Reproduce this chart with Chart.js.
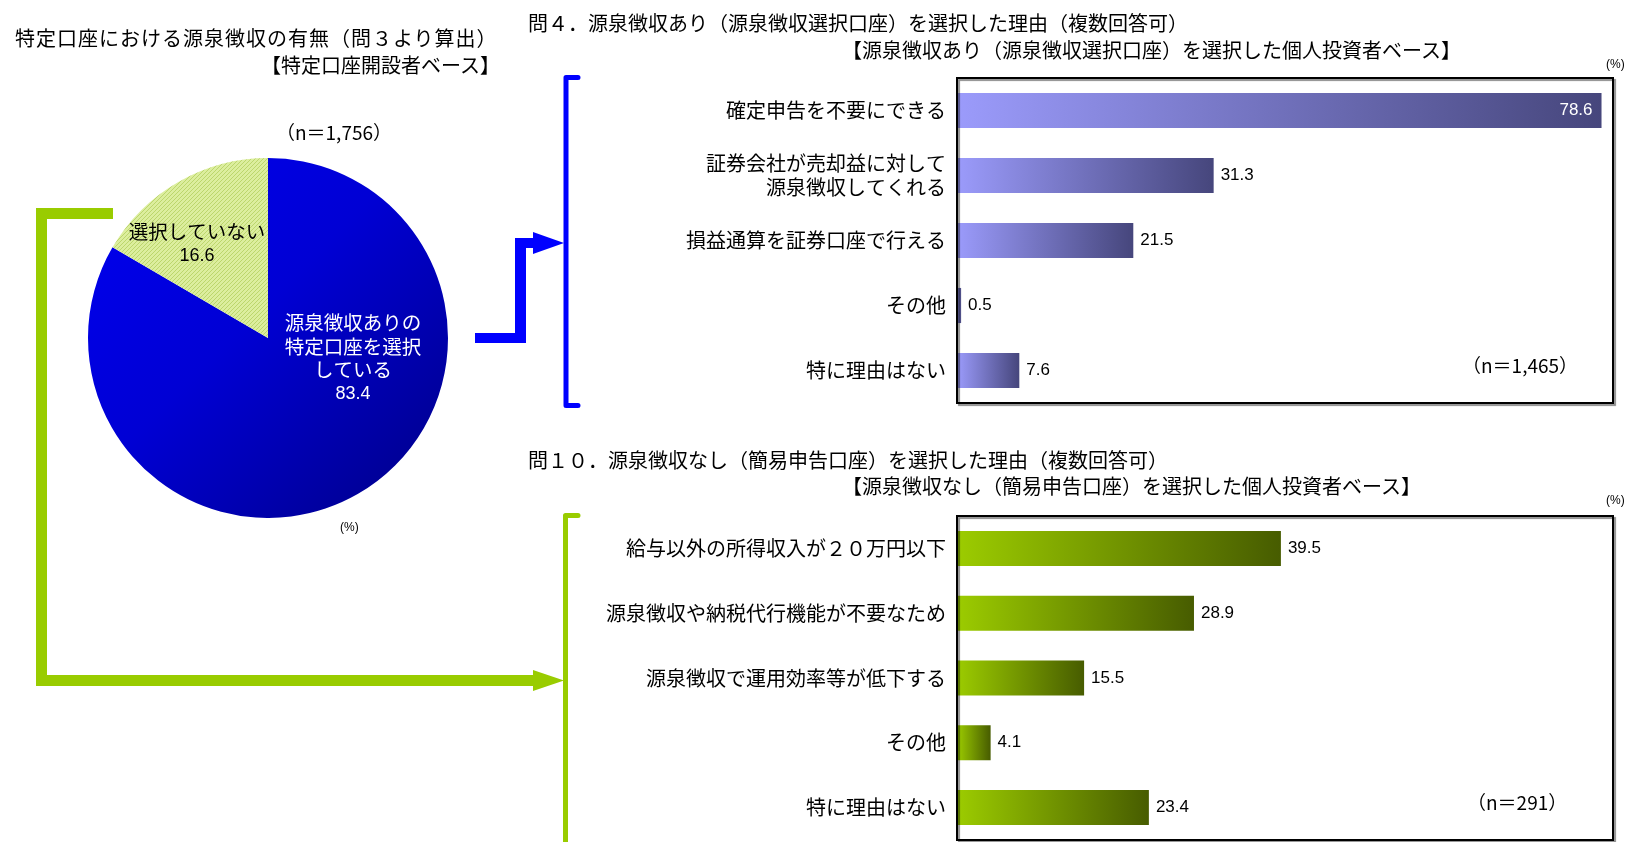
<!DOCTYPE html>
<html lang="ja">
<head>
<meta charset="utf-8">
<title>特定口座における源泉徴収の有無</title>
<script src="https://cdn.jsdelivr.net/npm/chart.js@4.4.1/dist/chart.umd.min.js"></script>
<style>
  html, body { margin: 0; padding: 0; background: #fff; }
  body {
    width: 1630px; height: 842px; position: relative; overflow: hidden;
    font-family: "Noto Sans CJK JP", sans-serif; color: #000;
  }
  canvas { position: absolute; }
  .txt { position: absolute; white-space: nowrap; font-size: 20px; line-height: 26px; }
  .n { font-size: 19px; line-height: 24px; }
  .pct { font-size: 12px; line-height: 16px; font-family: "Liberation Sans", sans-serif; }
</style>
</head>
<body>
<canvas id="links" width="1630" height="842" style="left:0;top:0"></canvas>

<div class="txt" style="left:15px;top:25px;letter-spacing:1px">特定口座における源泉徴収の有無（問３より算出）</div>
<div class="txt" style="right:1130px;top:52px">【特定口座開設者ベース】</div>
<div class="txt n" style="left:234px;width:200px;text-align:center;top:120px">（n＝1,756）</div>
<div class="txt pct" style="left:340px;top:519px">(%)</div>

<div class="txt" style="left:528px;top:10px">問４．源泉徴収あり（源泉徴収選択口座）を選択した理由（複数回答可）</div>
<div class="txt" style="left:842px;top:37px">【源泉徴収あり（源泉徴収選択口座）を選択した個人投資者ベース】</div>
<div class="txt pct" style="left:1606px;top:56px">(%)</div>
<div class="txt n" style="left:1462px;top:353px">（n＝1,465）</div>

<div class="txt" style="left:528px;top:447px">問１０．源泉徴収なし（簡易申告口座）を選択した理由（複数回答可）</div>
<div class="txt" style="left:842px;top:473px">【源泉徴収なし（簡易申告口座）を選択した個人投資者ベース】</div>
<div class="txt pct" style="left:1606px;top:492px">(%)</div>
<div class="txt n" style="left:1467px;top:790px">（n＝291）</div>

<canvas id="pie" width="360" height="360" style="left:88px;top:158px"></canvas>
<canvas id="barWith" width="1066" height="345" style="left:560px;top:68px"></canvas>
<canvas id="barWithout" width="1066" height="336" style="left:560px;top:506px"></canvas>

<script>
// --- data ---------------------------------------------------------------
const pieNames = ['源泉徴収ありの特定口座を選択している', '選択していない'];
const pieLines = [['源泉徴収ありの', '特定口座を選択', 'している'], ['選択していない']];
const pieValues = [83.4, 16.6];

const reasonsWith = [
  '確定申告を不要にできる',
  ['証券会社が売却益に対して', '源泉徴収してくれる'],
  '損益通算を証券口座で行える',
  'その他',
  '特に理由はない'
];
const valuesWith = [78.6, 31.3, 21.5, 0.5, 7.6];

const reasonsWithout = [
  '給与以外の所得収入が２０万円以下',
  '源泉徴収や納税代行機能が不要なため',
  '源泉徴収で運用効率等が低下する',
  'その他',
  '特に理由はない'
];
const valuesWithout = [39.5, 28.9, 15.5, 4.1, 23.4];

const axisMax = 80;

// --- helpers ------------------------------------------------------------
const JP_FONT = '"Noto Sans CJK JP", sans-serif';
const NUM_FONT = '"Liberation Sans", Arial, sans-serif';

// horizontal gradient spanning each bar from zero to its own end
function barGradient(from, to) {
  return (ctx) => {
    const chart = ctx.chart;
    const xScale = chart.scales.x;
    if (!chart.chartArea || !xScale || !ctx.parsed) return from;
    const x0 = xScale.getPixelForValue(0);
    const x1 = xScale.getPixelForValue(ctx.parsed.x);
    const g = chart.ctx.createLinearGradient(x0, 0, Math.max(x1, x0 + 1), 0);
    g.addColorStop(0, from);
    g.addColorStop(1, to);
    return g;
  };
}

// box around the plot area, with a soft shadow on the lower right
const framePlugin = {
  id: 'frame',
  afterDatasetsDraw(chart) {
    const { ctx, chartArea: a } = chart;
    ctx.save();
    ctx.shadowColor = 'rgba(0,0,0,0.45)';
    ctx.shadowOffsetX = 2;
    ctx.shadowOffsetY = 2;
    ctx.shadowBlur = 1;
    ctx.strokeStyle = '#000';
    ctx.lineWidth = 2;
    ctx.strokeRect(a.left, a.top, a.right - a.left, a.bottom - a.top);
    ctx.restore();
  }
};

// value next to each bar; long bars carry it inside in white
const valueLabelPlugin = {
  id: 'valueLabels',
  afterDatasetsDraw(chart) {
    const { ctx } = chart;
    const ds = chart.data.datasets[0];
    ctx.save();
    ctx.font = '17px ' + NUM_FONT;
    ctx.textBaseline = 'middle';
    chart.getDatasetMeta(0).data.forEach((bar, i) => {
      const v = ds.data[i];
      if (v >= 70) {
        ctx.fillStyle = '#fff';
        ctx.textAlign = 'right';
        ctx.fillText(v.toFixed(1), bar.x - 9, bar.y);
      } else {
        ctx.fillStyle = '#000';
        ctx.textAlign = 'left';
        ctx.fillText(v.toFixed(1), bar.x + 7, bar.y);
      }
    });
    ctx.restore();
  }
};

function makeBarChart(id, labels, values, from, to, padBottom) {
  return new Chart(document.getElementById(id), {
    type: 'bar',
    data: {
      labels,
      datasets: [{
        data: values,
        backgroundColor: barGradient(from, to),
        borderWidth: 0,
        barPercentage: 0.54,
        categoryPercentage: 1
      }]
    },
    options: {
      indexAxis: 'y',
      responsive: false,
      animation: false,
      layout: { padding: { top: 10, right: 13, bottom: padBottom, left: 0 } },
      plugins: { legend: { display: false }, tooltip: { enabled: false } },
      scales: {
        x: { display: false, min: 0, max: axisMax },
        y: {
          grid: { display: false, drawTicks: false },
          border: { display: false },
          ticks: { color: '#000', padding: 11, font: { family: JP_FONT, size: 20, lineHeight: 1.16 } },
          afterFit(scale) {
            scale.width = 397;
            // labels sit inside their bands, no extra room needed above/below
            scale.paddingTop = 0;
            scale.paddingBottom = 0;
          }
        }
      }
    },
    plugins: [framePlugin, valueLabelPlugin]
  });
}

// --- pie ------------------------------------------------------------------
function hatch(ctx) {
  const c = document.createElement('canvas');
  c.width = c.height = 4;
  const g = c.getContext('2d');
  g.fillStyle = '#dcee9e';
  g.fillRect(0, 0, 4, 4);
  g.strokeStyle = '#bcd66c';
  g.lineWidth = 1;
  g.beginPath();
  g.moveTo(-1, 5); g.lineTo(5, -1);
  g.stroke();
  return ctx.createPattern(c, 'repeat');
}

const pieCanvas = document.getElementById('pie');
const greenHatch = hatch(pieCanvas.getContext('2d'));

function sliceFill(ctx) {
  if (ctx.dataIndex === 1) return greenHatch;
  const a = ctx.chart.chartArea;
  if (!a) return '#0000cc';
  const g = ctx.chart.ctx.createLinearGradient(a.left, a.top, a.right, a.bottom);
  g.addColorStop(0, '#0000f2');
  g.addColorStop(0.45, '#0000d4');
  g.addColorStop(1, '#000084');
  return g;
}

// label blocks placed relative to the pie centre
const pieLabelPos = [
  { dx: 85, dy: -15, color: '#fff' },
  { dx: -71, dy: -106, color: '#000' }
];

const pieLabelPlugin = {
  id: 'pieLabels',
  afterDatasetsDraw(chart) {
    const { ctx } = chart;
    const arcs = chart.getDatasetMeta(0).data;
    ctx.save();
    ctx.textAlign = 'center';
    ctx.textBaseline = 'middle';
    arcs.forEach((arc, i) => {
      const p = pieLabelPos[i];
      const lines = pieLines[i];
      ctx.fillStyle = p.color;
      ctx.font = '19.5px ' + JP_FONT;
      lines.forEach((t, k) => ctx.fillText(t, arc.x + p.dx, arc.y + p.dy + k * 23.5));
      ctx.font = '18px ' + NUM_FONT;
      ctx.fillText(pieValues[i].toFixed(1), arc.x + p.dx, arc.y + p.dy + lines.length * 23.5 + 1);
    });
    ctx.restore();
  }
};

new Chart(pieCanvas, {
  type: 'pie',
  data: {
    labels: pieNames,
    datasets: [{
      data: pieValues,
      backgroundColor: sliceFill,
      borderWidth: 0
    }]
  },
  options: {
    responsive: false,
    animation: false,
    layout: { padding: 0 },
    plugins: { legend: { display: false }, tooltip: { enabled: false } }
  },
  plugins: [pieLabelPlugin]
});

makeBarChart('barWith', reasonsWith, valuesWith, '#9b9bfb', '#46467c', 10);
makeBarChart('barWithout', reasonsWithout, valuesWithout, '#9ccc00', '#475c00', 2);

// --- connectors and brackets ---------------------------------------------
(function drawLinks() {
  const c = document.getElementById('links').getContext('2d');

  // blue: pie -> first panel
  c.fillStyle = '#0000ff';
  c.fillRect(475, 333, 51, 10);
  c.fillRect(515, 238, 11, 105);
  c.fillRect(515, 238, 18, 10);
  c.beginPath();
  c.moveTo(533, 232); c.lineTo(564, 243); c.lineTo(533, 254);
  c.closePath(); c.fill();

  c.strokeStyle = '#0000ff';
  c.lineWidth = 5;
  c.lineCap = 'round';
  c.lineJoin = 'round';
  c.beginPath();
  c.moveTo(578, 77.5); c.lineTo(566, 77.5); c.lineTo(566, 405.5); c.lineTo(578, 405.5);
  c.stroke();

  // green: pie -> second panel
  c.fillStyle = '#99cc00';
  c.fillRect(36, 208, 77, 11);
  c.fillRect(36, 208, 11, 478);
  c.fillRect(36, 675, 497, 11);
  c.beginPath();
  c.moveTo(533, 670); c.lineTo(564, 680.5); c.lineTo(533, 691);
  c.closePath(); c.fill();

  c.strokeStyle = '#99cc00';
  c.beginPath();
  c.moveTo(578, 515.5); c.lineTo(565.5, 515.5); c.lineTo(565.5, 850);
  c.stroke();
})();
</script>
</body>
</html>
